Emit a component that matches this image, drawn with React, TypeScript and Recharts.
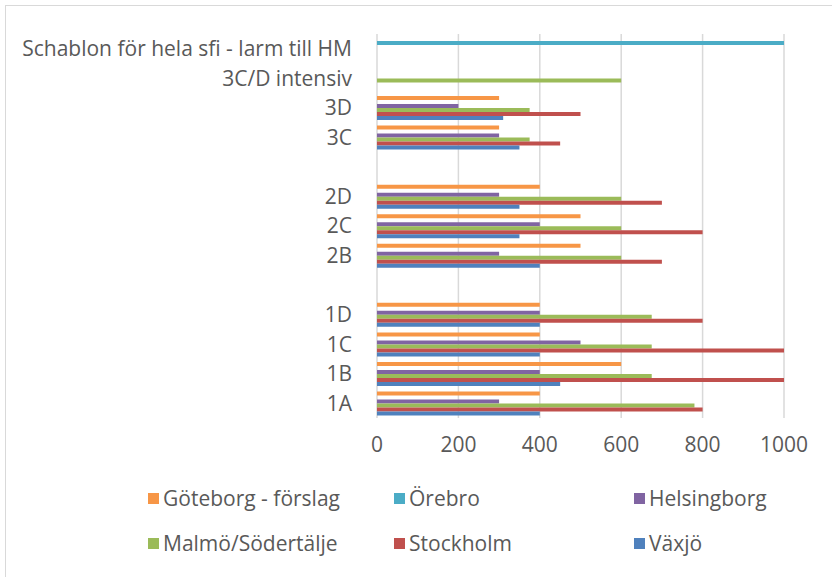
import React from "react";
import { BarChart, Bar, XAxis, YAxis, CartesianGrid } from "recharts";

// categories top to bottom (blank rows separate the levels)
const categories = [
  "Schablon för hela sfi - larm till HM",
  "3C/D intensiv",
  "3D",
  "3C",
  "",
  "2D",
  "2C",
  "2B",
  " ",
  "1D",
  "1C",
  "1B",
  "1A",
];

const goteborg = [null, null, 300, 300, null, 400, 500, 500, null, 400, 400, 600, 400];
const orebro = [1000, null, null, null, null, null, null, null, null, null, null, null, null];
const helsingborg = [null, null, 200, 300, null, 300, 400, 300, null, 400, 500, 400, 300];
const malmo = [null, 600, 375, 375, null, 600, 600, 600, null, 675, 675, 675, 780];
const stockholm = [null, null, 500, 450, null, 700, 800, 700, null, 800, 1000, 1000, 800];
const vaxjo = [null, null, 310, 350, null, 350, 350, 400, null, 400, 400, 450, 400];

const xTicks = [0, 200, 400, 600, 800, 1000];

// bars listed top to bottom inside a category
const series = [
  { key: "goteborg", name: "Göteborg - förslag", color: "#F79646", values: goteborg },
  { key: "orebro", name: "Örebro", color: "#4BACC6", values: orebro },
  { key: "helsingborg", name: "Helsingborg", color: "#8064A2", values: helsingborg },
  { key: "malmo", name: "Malmö/Södertälje", color: "#9BBB59", values: malmo },
  { key: "stockholm", name: "Stockholm", color: "#C0504D", values: stockholm },
  { key: "vaxjo", name: "Växjö", color: "#4F81BD", values: vaxjo },
];

const data = categories.map((name, i) => {
  const row: Record<string, any> = { name };
  series.forEach((s) => {
    row[s.key] = s.values[i];
  });
  return row;
});

const FONT = `"Open Sans", "Noto Sans", sans-serif`;
const TEXT = "#595959";
const FS = 21;

// legend cells: x of the swatch, row y
const legendCols = [148, 394, 634];
const legendRows = [498, 543];

export default function App() {
  return (
    <div
      style={{
        position: "absolute",
        left: 0,
        top: 0,
        width: 832,
        height: 577,
        background: "#fff",
        overflow: "hidden",
        fontFamily: FONT,
      }}
    >
      {/* chart frame, only left/top edge visible */}
      <div
        style={{
          position: "absolute",
          left: 5,
          top: 5,
          width: 900,
          height: 700,
          borderLeft: "1.5px solid #d9d9d9",
          borderTop: "1.5px solid #d9d9d9",
        }}
      />
      <div style={{ position: "absolute", left: 0, top: 0 }}>
        <BarChart
          width={832}
          height={577}
          data={data}
          layout="vertical"
          margin={{ top: 34, right: 48, left: 0, bottom: 119 }}
          barGap={0}
          barSize={4}
        >
          <CartesianGrid horizontal={false} stroke="#d9d9d9" strokeWidth={1.5} />
          <XAxis
            type="number"
            domain={[0, 1000]}
            ticks={xTicks}
            axisLine={false}
            tickLine={false}
            tickSize={0}
            tickMargin={19}
            height={40}
            tick={{ fill: TEXT, fontSize: FS, fontFamily: FONT }}
          />
          <YAxis
            type="category"
            dataKey="name"
            width={377}
            axisLine={false}
            tickLine={false}
            tickSize={0}
            tickMargin={25}
            interval={0}
            tick={{ fill: TEXT, fontSize: FS, fontFamily: FONT }}
          />
          {series.map((s) => (
            <Bar
              key={s.key}
              dataKey={s.key}
              name={s.name}
              fill={s.color}
              isAnimationActive={false}
            />
          ))}
        </BarChart>
      </div>
      {/* legend, in Excel's reversed order */}
      {series.map((s, i) => (
        <div
          key={s.key}
          style={{
            position: "absolute",
            left: legendCols[i % 3],
            top: legendRows[Math.floor(i / 3)] - 14,
            height: 28,
            display: "flex",
            alignItems: "center",
            color: TEXT,
            fontSize: FS,
            whiteSpace: "nowrap",
          }}
        >
          <span
            style={{
              display: "inline-block",
              width: 11,
              height: 11,
              background: s.color,
              marginRight: 4,
            }}
          />
          {s.name}
        </div>
      ))}
    </div>
  );
}
